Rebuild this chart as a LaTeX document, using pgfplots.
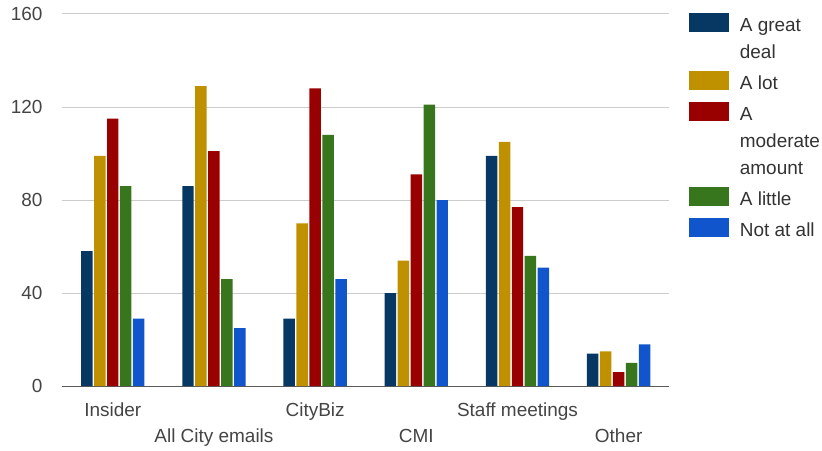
\documentclass[border=0pt]{standalone}
\usepackage{pgfplots}
\pgfplotsset{compat=1.18}
\usepackage{fontspec}
\setmainfont{Liberation Sans}

% Google Sheets palette
\definecolor{cnavy}{HTML}{073763}
\definecolor{cgold}{HTML}{BF9000}
\definecolor{cred}{HTML}{990000}
\definecolor{cgreen}{HTML}{38761D}
\definecolor{cblue}{HTML}{1155CC}
\definecolor{txt}{HTML}{444444}

\begin{document}
\begin{tikzpicture}
  \begin{axis}[
      scale only axis,
      width=608.4pt, height=373pt,
      ybar=1.5pt,
      bar width=11.5pt,
      xmin=-0.5, xmax=5.5,
      ymin=0, ymax=160,
      ytick={0,40,...,160},
      xtick={0,...,5},
      xticklabels={
        {\strut Insider},
        {\strut\\\strut All City emails},
        {\strut CityBiz},
        {\strut\\\strut CMI},
        {\strut Staff meetings},
        {\strut\\\strut Other}},
      major tick length=0pt,
      axis x line*=bottom,
      axis y line*=left,
      x axis line style={-, draw=black!65, line width=1.2pt},
      y axis line style={draw=none},
      ymajorgrids,
      grid style={draw=black!20, line width=1pt},
      /pgf/number format/assume math mode=true,
      yticklabel style={font=\fontsize{19}{23}\selectfont, text=txt,
        inner sep=0pt, anchor=east, xshift=-19.5pt},
      xticklabel style={font=\fontsize{19}{26.3}\selectfont, text=txt,
        inner sep=0pt, anchor=north, align=center, yshift=-11.3pt},
      legend image code/.code={\fill[#1] (0pt,-2.7pt) rectangle (40pt,-21.7pt);},
      legend style={at={(1,1)}, anchor=north west, xshift=19.6pt, yshift=3.4pt,
        draw=none, fill=none, inner sep=0pt, row sep=6.4pt, column sep=0pt,
        font=\fontsize{19}{27}\selectfont, text=black!80,
        cells={anchor=north west, align=left, inner sep=0pt},
        /tikz/every odd column/.append style={column sep=9pt}},
      every axis plot/.append style={draw=none},
    ]
    \addplot[fill=cnavy]  coordinates {(0,58) (1,86) (2,29) (3,40) (4,99) (5,14)};
    \addplot[fill=cgold]  coordinates {(0,99) (1,129) (2,70) (3,54) (4,105) (5,15)};
    \addplot[fill=cred]   coordinates {(0,115) (1,101) (2,128) (3,91) (4,77) (5,6)};
    \addplot[fill=cgreen] coordinates {(0,86) (1,46) (2,108) (3,121) (4,56) (5,10)};
    \addplot[fill=cblue]  coordinates {(0,29) (1,25) (2,46) (3,80) (4,51) (5,18)};
    \legend{{\strut A great\\\strut deal}, {\strut A lot},
      {\strut A\\\strut moderate\\\strut amount}, {\strut A little}, {\strut Not at all}}
  \end{axis}
  \path[use as bounding box] (-62.3pt,-63pt) rectangle (759.7pt,387pt);
\end{tikzpicture}
\end{document}
